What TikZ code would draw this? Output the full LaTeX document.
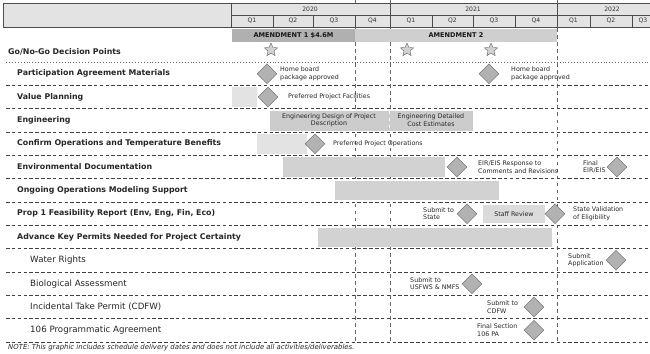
\documentclass[tikz,border=0pt]{standalone}
\usepackage{fontspec}
\setmainfont{DejaVu Sans}
\usetikzlibrary{shapes.geometric}

\begin{document}
\begin{tikzpicture}[x=0.03cm, y=-0.03cm,
        hdr/.style = {draw=black!70, fill=gray!22, line width=0.5pt},
        hdrtext/.style = {font=\fontsize{5.2}{6}\selectfont, text=black!80},
        phase/.style = {font=\fontsize{5.6}{7}\selectfont\bfseries, text=black!90},
        task/.style = {anchor=west, inner sep=0pt, font=\fontsize{6.7}{8}\selectfont\bfseries, text=black!85},
        subtask/.style = {task, font=\fontsize{7.4}{8.5}\selectfont},
        lbl/.style = {anchor=west, align=left, inner sep=0pt, font=\fontsize{5.4}{6.6}\selectfont, text=black!85},
        bartext/.style = {align=center, inner sep=0pt, font=\fontsize{5.4}{6.6}\selectfont, text=black!85},
        ms/.style = {diamond, aspect=1, fill=gray!60, draw=gray!75!black, line width=0.3pt, inner sep=0pt, minimum width=0.6cm, minimum height=0.6cm},
        gate/.style = {star, star points=5, star point ratio=2.2, fill=gray!35, draw=gray!70!black, line width=0.3pt, inner sep=0pt, minimum size=0.42cm},
        sep/.style = {densely dashed, black!75, line width=0.6pt},
        qline/.style = {dashed, black!60, line width=0.4pt}
    ]
    \useasboundingbox (0,0) rectangle (650,353);

    % ================= LÍNEAS VERTICALES =================
    \draw[qline] (355,0) -- (355,342);
    \draw[qline] (390,0) -- (390,342);
    \draw[qline] (557,0) -- (557,342);

    % ================= CABECERA =================
    \draw[hdr] (3,3) rectangle (231,27);

    \draw[hdr] (231,3) rectangle (390,15);
    \draw[hdr] (390,3) rectangle (557,15);
    \draw[hdr] (557,3) rectangle (655,15);
    \node[hdrtext] (y20) at (310,9) {2020};
    \node[hdrtext] (y21) at (473,9) {2021};
    \node[hdrtext] (y22) at (612,9) {2022};

    \draw[hdr] (231,15) rectangle (273,27);
    \draw[hdr] (273,15) rectangle (313,27);
    \draw[hdr] (313,15) rectangle (355,27);
    \draw[hdr] (355,15) rectangle (390,27);
    \draw[hdr] (390,15) rectangle (432,27);
    \draw[hdr] (432,15) rectangle (473,27);
    \draw[hdr] (473,15) rectangle (515,27);
    \draw[hdr] (515,15) rectangle (557,27);
    \draw[hdr] (557,15) rectangle (590,27);
    \draw[hdr] (590,15) rectangle (632,27);
    \draw[hdr] (632,15) rectangle (655,27);
    \node[hdrtext] (q1a) at (252,21) {Q1};
    \node[hdrtext] (q2a) at (293,21) {Q2};
    \node[hdrtext] (q3a) at (334,21) {Q3};
    \node[hdrtext] (q4a) at (372.5,21) {Q4};
    \node[hdrtext] (q1b) at (411,21) {Q1};
    \node[hdrtext] (q2b) at (452.5,21) {Q2};
    \node[hdrtext] (q3b) at (494,21) {Q3};
    \node[hdrtext] (q4b) at (536,21) {Q4};
    \node[hdrtext] (q1c) at (573.5,21) {Q1};
    \node[hdrtext] (q2c) at (611,21) {Q2};
    \node[hdrtext] (q3c) at (643,21) {Q3};

    % Enmiendas
    \fill[gray!62] (232,29) rectangle (355,42);
    \fill[gray!38] (355,29) rectangle (557,42);
    \node[phase] (amend1) at (293.5,35.5) {AMENDMENT 1 \$4.6M};
    \node[phase] (amend2) at (456,35.5) {AMENDMENT 2};

    % ================= SEPARADORES =================
    \draw[dotted, black!60, line width=0.5pt] (6,62) -- (650,62);
    \draw[sep] (6,85.3) -- (650,85.3);
    \draw[sep] (6,108.7) -- (650,108.7);
    \draw[sep] (6,132) -- (650,132);
    \draw[sep] (6,155.3) -- (650,155.3);
    \draw[sep] (6,178.7) -- (650,178.7);
    \draw[sep] (6,202) -- (650,202);
    \draw[sep] (6,225.3) -- (650,225.3);
    \draw[sep] (6,248.7) -- (650,248.7);
    \draw[sep] (6,272) -- (650,272);
    \draw[sep] (6,295.3) -- (650,295.3);
    \draw[sep] (6,318.7) -- (650,318.7);
    \draw[sep] (6,342) -- (650,342);

    % ================= TAREAS =================
    \node[task] (gonogo) at (8,52) {Go/No-Go Decision Points};
    \node[task] (partic) at (17,73.7) {Participation Agreement Materials};
    \node[task] (value) at (17,97) {Value Planning};
    \node[task] (engin) at (17,120.3) {Engineering};
    \node[task] (confirm) at (17,143.7) {Confirm Operations and Temperature Benefits};
    \node[task] (envdoc) at (17,167) {Environmental Documentation};
    \node[task] (ongoing) at (17,190.3) {Ongoing Operations Modeling Support};
    \node[task] (prop1) at (17,213.7) {Prop 1 Feasibility Report (Env, Eng, Fin, Eco)};
    \node[task] (permits) at (17,237) {Advance Key Permits Needed for Project Certainty};
    \node[subtask] (water) at (30,260.3) {Water Rights};
    \node[subtask] (bio) at (30,283.7) {Biological Assessment};
    \node[subtask] (itp) at (30,307) {Incidental Take Permit (CDFW)};
    \node[subtask] (pa106) at (30,330.3) {106 Programmatic Agreement};

    % ================= BARRAS =================
    \fill[gray!22] (232,87) rectangle (257,107);
    \fill[gray!40] (270,110.5) rectangle (473,130.5);
    \draw[dashed, white, line width=0.4pt] (389,110.5) -- (389,130.5);
    \node[bartext] (engdes) at (329,120.3) {Engineering Design of Project\\Description};
    \node[bartext] (engdet) at (431,120.3) {Engineering Detailed\\Cost Estimates};
    \fill[gray!22] (257,134) rectangle (307,154);
    \fill[gray!35] (283,157) rectangle (445,177);
    \fill[gray!35] (335,181) rectangle (499,200);
    \fill[gray!28] (483,205) rectangle (545,223);
    \node[bartext] (staff) at (514,213.7) {Staff Review};
    \fill[gray!35] (318,227.5) rectangle (552,247);

    % ================= HITOS =================
    \node[gate] (gate1) at (271,50) {};
    \node[gate] (gate2) at (407,50) {};
    \node[gate] (gate3) at (491,50) {};

    \node[ms] (hb1) at (267,73.7) {};
    \node[lbl] (hb1t) at (280,73.7) {Home board\\package approved};
    \node[ms] (hb2) at (489,73.7) {};
    \node[lbl] (hb2t) at (511,73.7) {Home board\\package approved};

    \node[ms] (ppf) at (268,97) {};
    \node[lbl] (ppft) at (288,97) {Preferred Project Facilities};

    \node[ms] (ppo) at (315,143.7) {};
    \node[lbl] (ppot) at (333,143.7) {Preferred Project Operations};

    \node[ms] (eir1) at (457,167) {};
    \node[lbl] (eir1t) at (478,167) {EIR/EIS Response to\\Comments and Revisions};
    \node[ms] (eir2) at (617,167) {};
    \node[lbl] (eir2t) at (583,167) {Final\\EIR/EIS};

    \node[ms] (state1) at (467,213.7) {};
    \node[lbl] (state1t) at (423,213.7) {Submit to\\State};
    \node[ms] (state2) at (555,213.7) {};
    \node[lbl] (state2t) at (573,213.7) {State Validation\\of Eligibility};

    \node[ms] (wr) at (616,260.3) {};
    \node[lbl] (wrt) at (568,260.3) {Submit\\Application};

    \node[ms] (ba) at (472,283.7) {};
    \node[lbl] (bat) at (410,283.7) {Submit to\\USFWS \& NMFS};

    \node[ms] (cdfw) at (534,307) {};
    \node[lbl] (cdfwt) at (487,307) {Submit to\\CDFW};

    \node[ms] (sec106) at (534,330.3) {};
    \node[lbl] (sec106t) at (477,330.3) {Final Section\\106 PA};

    % Nota
    \node[lbl, font=\fontsize{5.9}{7}\selectfont\itshape] (note) at (8,348) {NOTE: This graphic includes schedule delivery dates and does not include all activities/deliverables.};

\end{tikzpicture}
\end{document}
